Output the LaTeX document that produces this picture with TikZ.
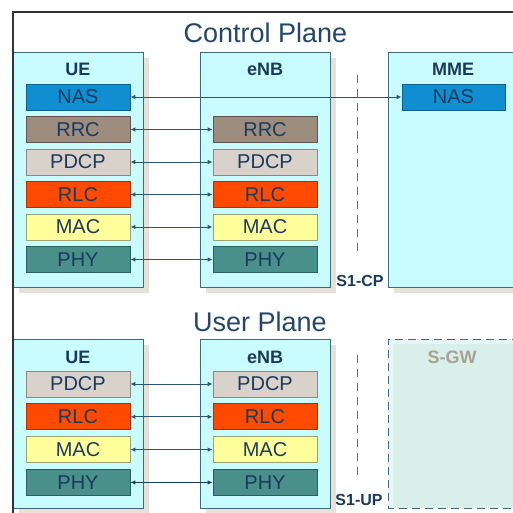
\documentclass[tikz,border=0pt]{standalone}
\usepackage{fontspec}
\setmainfont{Liberation Sans}
\usetikzlibrary{arrows.meta,shadows}
\definecolor{boxfill}{HTML}{C8FCFF}
\definecolor{boxline}{HTML}{3E6A80}
\definecolor{shadowc}{HTML}{E6E2DA}
\definecolor{txt}{HTML}{1B3A5C}
\definecolor{ttlc}{HTML}{24466A}
\definecolor{connc}{HTML}{2F5470}
\definecolor{nasf}{HTML}{0F8FD2}
\definecolor{nasd}{HTML}{0B5E90}
\definecolor{rrcf}{HTML}{9C8D7E}
\definecolor{rrcd}{HTML}{5E5448}
\definecolor{pdcpf}{HTML}{D9D2CA}
\definecolor{pdcpd}{HTML}{8C8880}
\definecolor{rlcf}{HTML}{FF4A00}
\definecolor{rlcd}{HTML}{B03000}
\definecolor{macf}{HTML}{FFFF9C}
\definecolor{macd}{HTML}{A0A070}
\definecolor{phyf}{HTML}{4A908A}
\definecolor{phyd}{HTML}{2A5E5E}
\definecolor{sgwf}{HTML}{D8EFEA}
\definecolor{sgwo}{HTML}{E8F6F3}
\definecolor{sgwt}{HTML}{A6A296}
\tikzset{
  container/.style={draw=boxline, line width=0.8pt, fill=boxfill, minimum width=130pt, inner sep=0pt,
    drop shadow={shadow xshift=6pt, shadow yshift=-6pt, fill=shadowc, opacity=1}},
  layer/.style={draw=#1d, line width=0.8pt, fill=#1f, minimum width=104pt, minimum height=26pt, inner sep=0pt,
    text=txt, font=\fontsize{20}{22}\selectfont},
  enttl/.style={text=txt, font=\fontsize{18}{20}\selectfont\bfseries, inner sep=0pt},
  plttl/.style={text=ttlc, font=\fontsize{27}{30}\selectfont, inner sep=0pt, anchor=base},
  conn/.style={draw=connc, line width=0.9pt, {Latex[length=5pt,width=4.5pt]}-{Latex[length=5pt,width=4.5pt]}},
  sep/.style={draw=connc!80, line width=0.8pt, dash pattern=on 8pt off 6pt},
  s1lbl/.style={text=txt, font=\fontsize{16}{18}\selectfont\bfseries, inner sep=0pt}
}
\begin{document}
\begin{tikzpicture}[x=1pt,y=-1pt]
\useasboundingbox (0,0) rectangle (513,513);
\clip (0,0) rectangle (513,513);
% ---------- Control plane ----------
\node[plttl] (cptitle) at (265.5,43) {Control Plane};
\node[container, minimum height=235pt] (cpue) at (78,169.5) {};
\node[container, minimum height=235pt] (cpenb) at (265,169.5) {};
\node[container, minimum height=235pt, minimum width=132pt] (cpmme) at (454,169.5) {};
\node[enttl] (cpuet) at (78,69) {UE};
\node[enttl] (cpenbt) at (265,69) {eNB};
\node[enttl] (cpmmet) at (453,69) {MME};
\node[layer=nas] (ue-nas) at (78,97) {NAS};
\node[layer=rrc] (ue-rrc) at (78,129.5) {RRC};
\node[layer=pdcp] (ue-pdcp) at (78,162) {PDCP};
\node[layer=rlc] (ue-rlc) at (78,194.5) {RLC};
\node[layer=mac] (ue-mac) at (78,227) {MAC};
\node[layer=phy] (ue-phy) at (78,259.5) {PHY};
\node[layer=rrc] (enb-rrc) at (265,129.5) {RRC};
\node[layer=pdcp] (enb-pdcp) at (265,162) {PDCP};
\node[layer=rlc] (enb-rlc) at (265,194.5) {RLC};
\node[layer=mac] (enb-mac) at (265,227) {MAC};
\node[layer=phy] (enb-phy) at (265,259.5) {PHY};
\node[layer=nas, minimum width=103pt] (mme-nas) at (453.5,97) {NAS};
\draw[conn] (ue-nas.east) -- (mme-nas.west);
\foreach \n in {rrc,pdcp,rlc,mac,phy}{\draw[conn] (ue-\n.east) -- (enb-\n.west);}
\coordinate (cps1a) at (357,75);
\coordinate (cps1b) at (357,253);
\draw[sep] (cps1a) -- (cps1b);
\node[s1lbl] (s1cp) at (360,281) {S1-CP};
% ---------- User plane ----------
\node[plttl] (uptitle) at (260,331) {User Plane};
\node[container, minimum height=169pt] (upue) at (78,423.5) {};
\node[container, minimum height=169pt] (upenb) at (265,423.5) {};
\fill[sgwo] (388,339) rectangle (520,508);
\fill[sgwf] (393,344) rectangle (520,508);
\draw[draw=boxline, line width=0.8pt, dash pattern=on 8pt off 5pt] (520,339) -- (388,339) -- (388,508) -- (520,508);
\node[enttl] (upuet) at (78,357) {UE};
\node[enttl] (upenbt) at (265,357) {eNB};
\node[enttl, text=sgwt] (sgwt) at (452,357) {S-GW};
\node[layer=pdcp] (uue-pdcp) at (78,384) {PDCP};
\node[layer=rlc] (uue-rlc) at (78,416.8) {RLC};
\node[layer=mac] (uue-mac) at (78,449.6) {MAC};
\node[layer=phy] (uue-phy) at (78,482.4) {PHY};
\node[layer=pdcp] (uenb-pdcp) at (265,384) {PDCP};
\node[layer=rlc] (uenb-rlc) at (265,416.8) {RLC};
\node[layer=mac] (uenb-mac) at (265,449.6) {MAC};
\node[layer=phy] (uenb-phy) at (265,482.4) {PHY};
\foreach \n in {pdcp,rlc,mac}{\draw[conn] (uue-\n.east) -- (uenb-\n.west);}
\draw[conn, draw=txt, line width=1.6pt] (uue-phy.east) -- (uenb-phy.west);
\coordinate (ups1a) at (357,355);
\coordinate (ups1b) at (357,477);
\draw[sep] (ups1a) -- (ups1b);
\node[s1lbl] (s1up) at (359,500) {S1-UP};
% ---------- Frame ----------
\draw[line width=1.5pt, draw=black!80] (13,513) -- (13,12) -- (513,12);
\end{tikzpicture}
\end{document}
